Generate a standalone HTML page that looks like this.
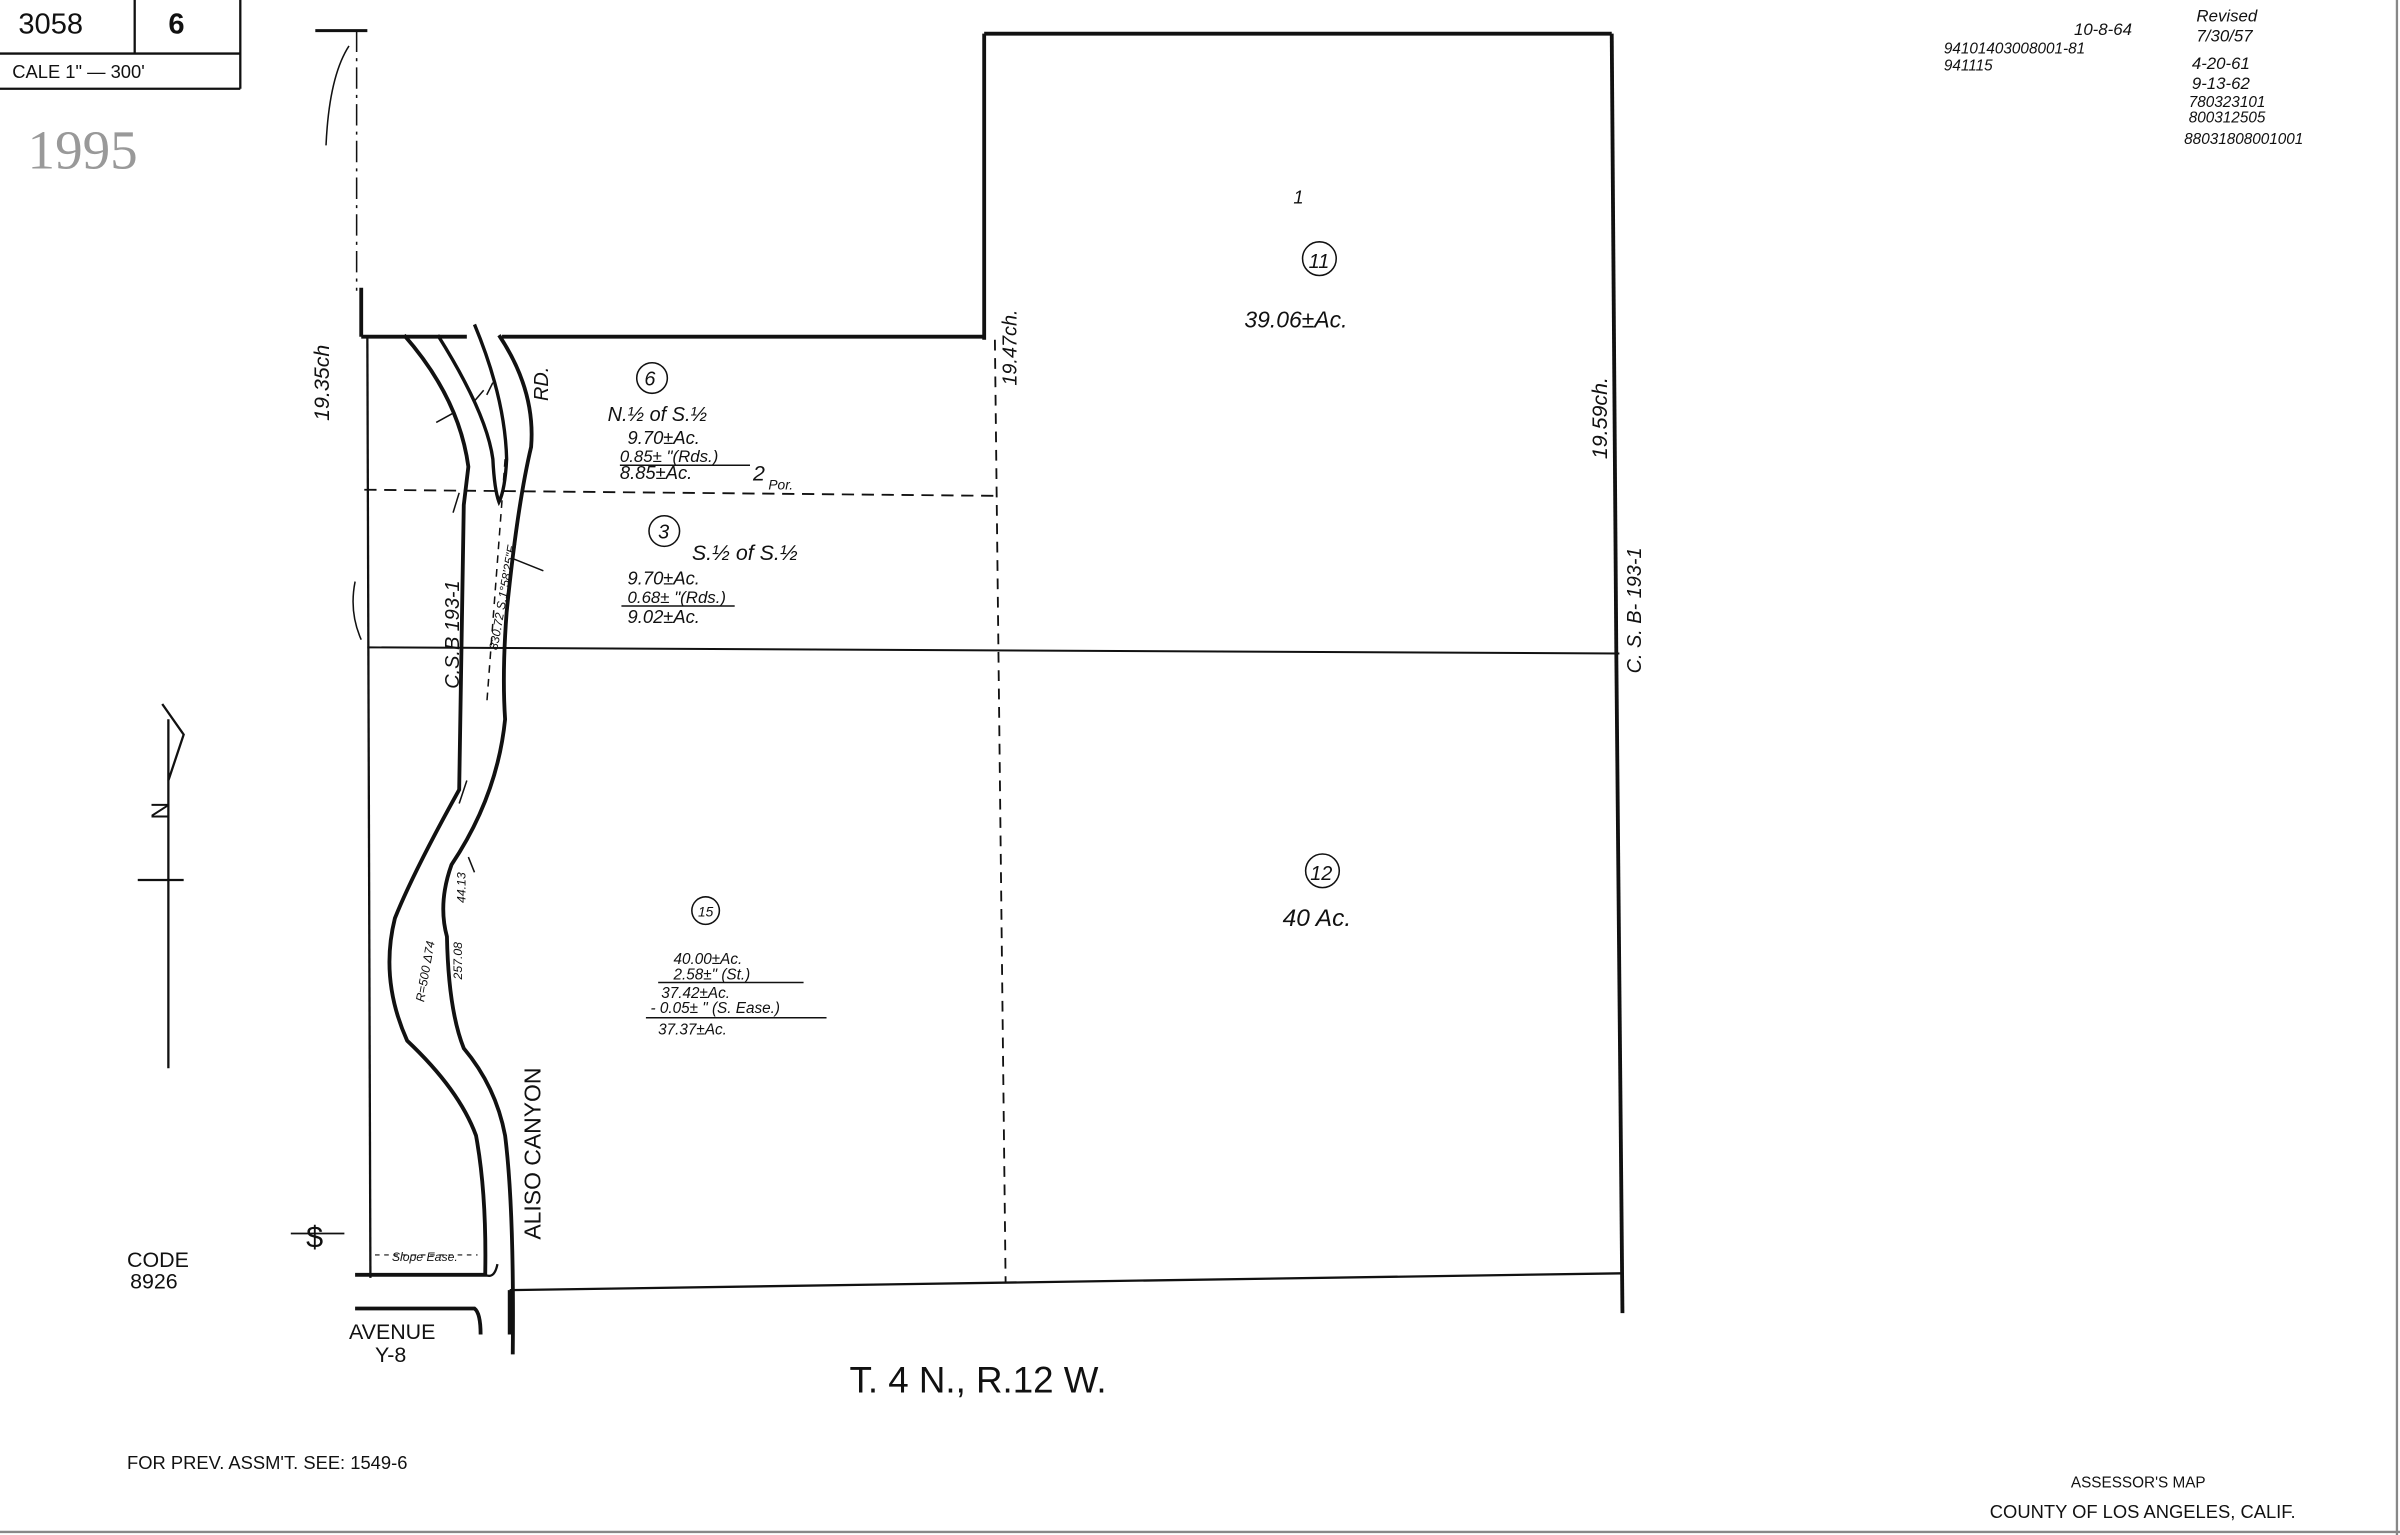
<!DOCTYPE html>
<html><head><meta charset="utf-8"><style>
html,body{margin:0;padding:0;background:#fff;}
svg{display:block;}
text{font-family:"Liberation Sans",sans-serif;fill:#111;}
.h{font-style:italic;}
</style></head><body>
<svg width="2400" height="1535" viewBox="0 0 1568 1003" preserveAspectRatio="none" xmlns="http://www.w3.org/2000/svg">
<rect width="1568" height="1003" fill="#fff"/>
<line x1="1566" y1="0" x2="1566" y2="1003" stroke="#888" stroke-width="1.5"/>
<line x1="0" y1="1001" x2="1568" y2="1001" stroke="#888" stroke-width="1.5"/>
<g stroke="#111" stroke-width="1.5" fill="none">
<line x1="0" y1="35" x2="157" y2="35"/><line x1="0" y1="58" x2="157" y2="58"/>
<line x1="88" y1="0" x2="88" y2="35"/><line x1="157" y1="0" x2="157" y2="58"/>
</g>
<text x="12" y="22" font-size="19">3058</text>
<text x="110" y="22" font-size="19" font-weight="bold">6</text>
<text x="8" y="51" font-size="12">CALE 1" — 300'</text>
<text x="18" y="110" font-size="36" style="font-family:'Liberation Serif',serif;fill:#999">1995</text>
<g class="h" font-size="11">
<text x="1355" y="23">10-8-64</text>
<text x="1270" y="35" font-size="10">94101403008001-81</text>
<text x="1270" y="46" font-size="10">941115</text>
<text x="1435" y="14">Revised</text>
<text x="1435" y="27">7/30/57</text>
<text x="1432" y="45">4-20-61</text>
<text x="1432" y="58">9-13-62</text>
<text x="1430" y="70" font-size="10">780323101</text>
<text x="1430" y="80" font-size="10">800312505</text>
<text x="1427" y="94" font-size="10">88031808001001</text>
</g>
<g stroke="#111" fill="none">
<line x1="206" y1="20" x2="240" y2="20" stroke-width="2"/>
<line x1="233" y1="20" x2="233" y2="190" stroke-width="1" stroke-dasharray="14 4 2 4"/>
<path d="M213 95 Q215 50 228 30" stroke-width="1"/>
<line x1="236" y1="188" x2="236" y2="220" stroke-width="2.5"/>
<line x1="236" y1="220" x2="305" y2="220" stroke-width="2.5"/>
<line x1="328" y1="220" x2="643" y2="220" stroke-width="2.5"/>
<line x1="643" y1="22" x2="643" y2="222" stroke-width="2.5"/>
<line x1="643" y1="22" x2="1053" y2="22" stroke-width="2.5"/>
<line x1="1053" y1="22" x2="1056" y2="428" stroke-width="2.5"/>
<line x1="1056" y1="428" x2="1060" y2="858" stroke-width="2.5"/>
<line x1="240" y1="220" x2="242" y2="835" stroke-width="1.5"/>
<line x1="238" y1="320" x2="650" y2="324" stroke-width="1.2" stroke-dasharray="8 5"/>
<line x1="240" y1="423" x2="1058" y2="427" stroke-width="1.3"/>
<line x1="650" y1="222" x2="657" y2="838" stroke-width="1.2" stroke-dasharray="7 5"/>
<line x1="333" y1="843" x2="1060" y2="832" stroke-width="1.5"/>
<!-- road -->
<path d="M264 219 Q300 260 306 305 L303 330 L300 516 Q270 570 258 600 Q248 640 266 680 Q300 712 311 742 Q318 780 317 833" stroke-width="2.5"/>
<path d="M326 219 Q350 255 347 292 Q338 330 331 400 Q328 440 330 470 Q325 520 295 565 Q286 590 292 612 Q293 660 303 685 Q324 710 330 742 Q336 790 335 885" stroke-width="2.5"/>
<path d="M286 219 Q318 270 322 300 Q323 320 326 328 Q330 320 331 300 Q330 260 310 212" stroke-width="2.2"/>
<path d="M232 380 Q228 400 236 418" stroke-width="1"/>
<g stroke-width="1">
<line x1="285" y1="276" x2="296" y2="270"/><line x1="310" y1="262" x2="316" y2="255"/><line x1="318" y1="258" x2="322" y2="250"/>
<line x1="296" y1="335" x2="300" y2="322"/><line x1="335" y1="365" x2="355" y2="373"/>
<line x1="305" y1="510" x2="300" y2="525"/><line x1="306" y1="560" x2="310" y2="570"/>
<line x1="330" y1="300" x2="318" y2="460" stroke-dasharray="5 4"/>
</g>
<path d="M232 833 L318 833" stroke-width="2.5"/>
<path d="M232 855 L310 855 Q314 858 314 872" stroke-width="2.5"/>
<path d="M317 833 Q323 836 325 826" stroke-width="1.5"/>
<line x1="333" y1="843" x2="333" y2="872" stroke-width="2.5"/>
<line x1="190" y1="806" x2="225" y2="806" stroke-width="1.2"/>
<line x1="245" y1="820" x2="312" y2="820" stroke-width="0.8" stroke-dasharray="3 3"/>
<line x1="110" y1="470" x2="110" y2="698" stroke-width="1.5"/>
<line x1="90" y1="575" x2="120" y2="575" stroke-width="1.5"/>
<path d="M106 460 L120 480 L110 510" stroke-width="1.5"/>
</g>
<text x="200" y="815" font-size="20">$</text>
<text x="100" y="533" font-size="16" transform="rotate(90 104 528)">N</text>
<g class="h">
<text x="215" y="275" font-size="14" transform="rotate(-90 215 275)">19.35ch</text>
<text x="664" y="252" font-size="13" transform="rotate(-90 664 252)">19.47ch.</text>
<text x="1050" y="300" font-size="14" transform="rotate(-90 1050 300)">19.59ch.</text>
<text x="1072" y="440" font-size="13" transform="rotate(-90 1072 440)">C. S.  B- 193-1</text>
<text x="300" y="450" font-size="13" transform="rotate(-90 300 450)">C.S.B 193-1</text>
<text x="358" y="262" font-size="13" transform="rotate(-90 358 262)">RD.</text>
<text x="325" y="425" font-size="8" transform="rotate(-80 325 425)">830.72  S.1°58'25"E.</text>
<circle cx="862" cy="169" r="11" fill="none" stroke="#111"/>
<text x="855" y="175" font-size="13">11</text>
<text x="845" y="133" font-size="12">1</text>
<text x="813" y="214" font-size="15">39.06±Ac.</text>
<circle cx="864" cy="569" r="11" fill="none" stroke="#111"/>
<text x="856" y="575" font-size="13">12</text>
<text x="838" y="605" font-size="16">40 Ac.</text>
<circle cx="426" cy="247" r="10" fill="none" stroke="#111"/>
<text x="421" y="252" font-size="13">6</text>
<text x="397" y="275" font-size="13">N.½ of S.½</text>
<text x="410" y="290" font-size="12">9.70±Ac.</text>
<text x="405" y="302" font-size="11">0.85± "(Rds.)</text>
<line x1="405" y1="304" x2="490" y2="304" stroke="#111"/>
<text x="405" y="313" font-size="12">8.85±Ac.</text>
<text x="492" y="314" font-size="14">2</text><text x="502" y="320" font-size="9">Por.</text>
<circle cx="434" cy="347" r="10" fill="none" stroke="#111"/>
<text x="430" y="352" font-size="13">3</text>
<text x="452" y="366" font-size="14">S.½ of S.½</text>
<text x="410" y="382" font-size="12">9.70±Ac.</text>
<text x="410" y="394" font-size="11">0.68± "(Rds.)</text>
<line x1="406" y1="396" x2="480" y2="396" stroke="#111"/>
<text x="410" y="407" font-size="12">9.02±Ac.</text>
<circle cx="461" cy="595" r="9" fill="none" stroke="#111"/>
<text x="456" y="599" font-size="9">15</text>
<text x="440" y="630" font-size="10">40.00±Ac.</text>
<text x="440" y="640" font-size="10">2.58±" (St.)</text>
<line x1="430" y1="642" x2="525" y2="642" stroke="#111"/>
<text x="432" y="652" font-size="10">37.42±Ac.</text>
<text x="425" y="662" font-size="10">- 0.05± " (S. Ease.)</text>
<line x1="422" y1="665" x2="540" y2="665" stroke="#111"/>
<text x="430" y="676" font-size="10">37.37±Ac.</text>
<text x="277" y="655" font-size="8" transform="rotate(-80 277 655)">R=500  Δ74</text>
<text x="302" y="640" font-size="8" transform="rotate(-90 302 640)">257.08</text>
<text x="304" y="590" font-size="8" transform="rotate(-90 304 590)">44.13</text>
<text x="256" y="824" font-size="8">Slope  Ease.</text>
</g>
<text x="353" y="810" font-size="15" transform="rotate(-90 353 810)">ALISO CANYON</text>
<text x="83" y="828" font-size="14">CODE</text>
<text x="85" y="842" font-size="14">8926</text>
<text x="228" y="875" font-size="14">AVENUE</text>
<text x="245" y="890" font-size="14">Y-8</text>
<text x="555" y="910" font-size="24">T. 4 N., R.12 W.</text>
<text x="83" y="960" font-size="12">FOR PREV. ASSM'T. SEE:  1549-6</text>
<text x="1353" y="972" font-size="10">ASSESSOR'S MAP</text>
<text x="1300" y="992" font-size="12">COUNTY OF LOS ANGELES, CALIF.</text>
</svg>
</body></html>
